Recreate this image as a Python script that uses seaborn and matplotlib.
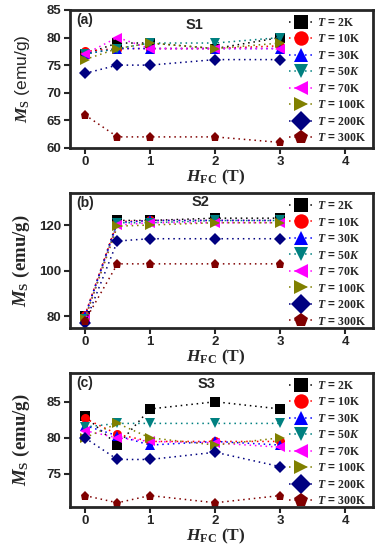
import matplotlib
matplotlib.use("Agg")
import matplotlib.pyplot as plt
import seaborn as sns

# data
h_fc = [0, 0.5, 1, 2, 3]
temps = ["2K", "10K", "30K", "50K", "70K", "100K", "200K", "300K"]

s1_ms = [
    [77.0, 79.0, 79.0, 78.0, 80.0],
    [77.5, 78.0, 78.0, 78.0, 78.5],
    [77.0, 78.0, 78.0, 78.0, 78.0],
    [77.0, 78.0, 79.0, 79.0, 80.0],
    [77.0, 80.0, 78.0, 78.0, 78.0],
    [76.0, 78.0, 79.0, 78.0, 79.0],
    [73.5, 75.0, 75.0, 76.0, 76.0],
    [66.0, 62.0, 62.0, 62.0, 61.0],
]
s2_ms = [
    [80.0, 122.0, 122.0, 123.0, 123.0],
    [80.5, 121.5, 122.0, 122.0, 122.0],
    [80.0, 121.0, 122.0, 122.0, 122.0],
    [79.0, 121.0, 121.0, 122.0, 122.0],
    [79.0, 120.0, 121.0, 121.0, 121.0],
    [79.0, 119.5, 120.0, 121.0, 121.0],
    [77.0, 113.0, 114.0, 114.0, 114.0],
    [78.0, 103.0, 103.0, 103.0, 103.0],
]
s3_ms = [
    [83.0, 79.0, 84.0, 85.0, 84.0],
    [82.7, 80.5, 79.5, 79.5, 79.5],
    [81.7, 80.3, 79.0, 79.5, 79.0],
    [81.5, 82.0, 82.0, 82.0, 82.0],
    [81.0, 80.0, 79.5, 79.3, 78.7],
    [80.0, 82.0, 80.0, 79.0, 80.0],
    [80.0, 77.0, 77.0, 78.0, 76.0],
    [72.0, 71.0, 72.0, 71.0, 72.0],
]

colors = ["#000000", "#ff0000", "#0000ff", "#008080",
          "#ff00ff", "#808000", "#000080", "#800000"]
markers = ["s", "o", "^", "v", "<", ">", "D", "p"]

sns.set_style("ticks")
plt.rcParams["font.family"] = ["Liberation Sans", "DejaVu Sans"]
plt.rcParams["font.weight"] = "bold"
plt.rcParams["mathtext.fontset"] = "custom"
plt.rcParams["mathtext.rm"] = "Liberation Serif:bold"
plt.rcParams["mathtext.it"] = "Liberation Serif:italic:bold"
plt.rcParams["mathtext.bf"] = "Liberation Serif:bold"

fig = plt.figure(figsize=(3.82, 5.5), dpi=100)
boxes = [
    [0.183, 0.731, 0.793, 0.251],
    [0.183, 0.404, 0.793, 0.245],
    [0.183, 0.078, 0.793, 0.244],
]
panels = [
    (s1_ms, "(a)", "S1", (60, 85), [60, 65, 70, 75, 80, 85], (0.41, 0.89)),
    (s2_ms, "(b)", "S2", (75, 134), [80, 100, 120], (0.43, 0.93)),
    (s3_ms, "(c)", "S3", (70.4, 89), [75, 80, 85], (0.45, 0.92)),
]

for k, (box, (vals, tag, name, ylim, yticks, npos)) in enumerate(zip(boxes, panels)):
    ax = fig.add_axes(box)
    for i, t in enumerate(temps):
        if t == "50K":
            lab = r"$T$ = $\mathit{50K}$"
        else:
            lab = r"$T$ = " + r"$\mathrm{" + t + "}$"
        sns.lineplot(x=h_fc, y=vals[i], ax=ax, color=colors[i],
                     marker=markers[i], markersize=6.5, markeredgewidth=0,
                     linestyle=(0, (1, 2.5)), linewidth=1.1, label=lab)
    ax.set_xlim(-0.23, 4.42)
    ax.set_ylim(*ylim)
    ax.set_xticks([0, 1, 2, 3, 4])
    ax.set_yticks(yticks)
    ax.tick_params(labelsize=9.5, width=1.5, length=4, pad=2)
    for lbl in ax.get_xticklabels() + ax.get_yticklabels():
        lbl.set_fontweight("bold")
    for sp in ax.spines.values():
        sp.set_linewidth(2)
    ax.set_xlabel(r"$H_{\mathrm{FC}}$ $\mathrm{(T)}$", fontsize=12.5)
    if k == 0:
        ax.set_ylabel(r"$M_{\mathrm{S}}$ (emu/g)", fontsize=12.5)
    else:
        ax.set_ylabel(r"$M_{\mathrm{S}}$ $\mathrm{(emu/g)}$", fontsize=13.5)
    ax.xaxis.set_label_coords(0.48, -0.145)
    ax.yaxis.set_label_coords(-0.125, 0.5)
    ax.text(0.02, 0.975, tag, transform=ax.transAxes, fontsize=10,
            fontweight="bold", va="top", ha="left")
    ax.text(npos[0], npos[1], name, transform=ax.transAxes, fontsize=10.5,
            fontweight="bold", va="center", ha="center")
    ax.legend(loc="upper right", frameon=False, fontsize=8.5,
              markerscale=1.6, handlelength=2.0, handletextpad=0.3,
              labelspacing=0.38, borderaxespad=0.2,
              bbox_to_anchor=(1.0, 1.0))

fig.savefig("out.png", dpi=100)
